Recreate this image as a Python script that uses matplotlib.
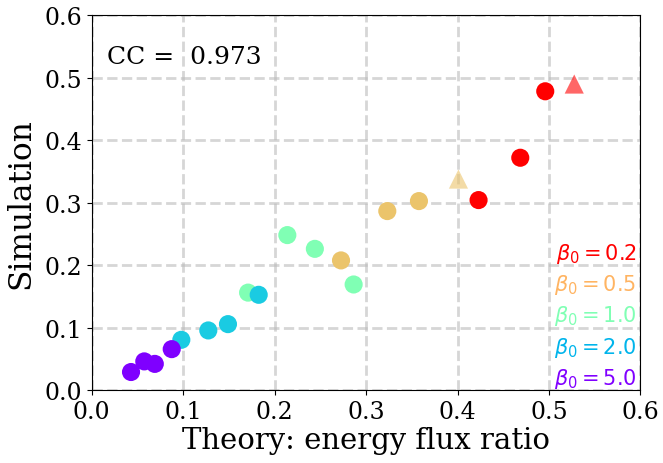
import matplotlib
matplotlib.use("Agg")
import matplotlib.pyplot as plt

plt.rcParams['font.family'] = ['DejaVu Serif']
plt.rcParams['mathtext.fontset'] = 'dejavusans'

# data per beta_0 group (theory, simulation)
beta_labels = ["0.2", "0.5", "1.0", "2.0", "5.0"]
text_colors = ["#ff0000", "#ffb462", "#80ffb4", "#00b4eb", "#8000ff"]
marker_colors = ["#ff0000", "#ebc46b", "#80ffb4", "#1acbe2", "#7f00ff"]

theory = [
    [0.423, 0.4686, 0.4959],
    [0.2726, 0.3232, 0.3578],
    [0.171, 0.2139, 0.244, 0.2864],
    [0.098, 0.1275, 0.149, 0.1826],
    [0.043, 0.0575, 0.069, 0.0875],
]
simulation = [
    [0.304, 0.3717, 0.478],
    [0.2075, 0.2864, 0.3024],
    [0.156, 0.248, 0.226, 0.169],
    [0.0805, 0.0955, 0.1056, 0.1525],
    [0.029, 0.046, 0.042, 0.0656],
]
# triangle points (group index, theory, simulation)
tri_group = [0, 1]
tri_theory = [0.5276, 0.401]
tri_sim = [0.4896, 0.3376]
cc_value = 0.973

fig = plt.figure(figsize=(6.63, 4.64), dpi=100)
ax = fig.add_axes([0.1383, 0.157, 0.8277, 0.8085])

for i, (xs, ys) in enumerate(zip(theory, simulation)):
    ax.scatter(xs, ys, s=170, color=marker_colors[i], edgecolors='none', zorder=3 + i)

for g, xv, yv in zip(tri_group, tri_theory, tri_sim):
    ax.scatter([xv], [yv], s=190, marker='^', color=marker_colors[g], alpha=0.6,
               edgecolors='none', zorder=3)

ax.set_xlim(0, 0.6)
ax.set_ylim(0, 0.6)
ax.set_xticks([0.0, 0.1, 0.2, 0.3, 0.4, 0.5, 0.6])
ax.set_yticks([0.0, 0.1, 0.2, 0.3, 0.4, 0.5, 0.6])
ax.tick_params(labelsize=17)
ax.grid(True, linestyle='--', color='#bbbbbb', linewidth=2, alpha=0.6, zorder=0)
ax.set_axisbelow(True)
ax.set_xlabel("Theory: energy flux ratio", fontsize=21, labelpad=2)
ax.set_ylabel("Simulation", fontsize=22.5, labelpad=6)

ax.text(0.028, 0.89, "CC =  %.3f" % cc_value, transform=ax.transAxes, fontsize=18,
        ha='left', va='center')

ys_txt = [0.365, 0.282, 0.199, 0.116, 0.033]
for lab, c, yt in zip(beta_labels, text_colors, ys_txt):
    ax.text(0.993, yt, r"$\beta_0 = %s$" % lab, transform=ax.transAxes, fontsize=15,
            color=c, ha='right', va='center')

fig.savefig("out.png", dpi=100)
